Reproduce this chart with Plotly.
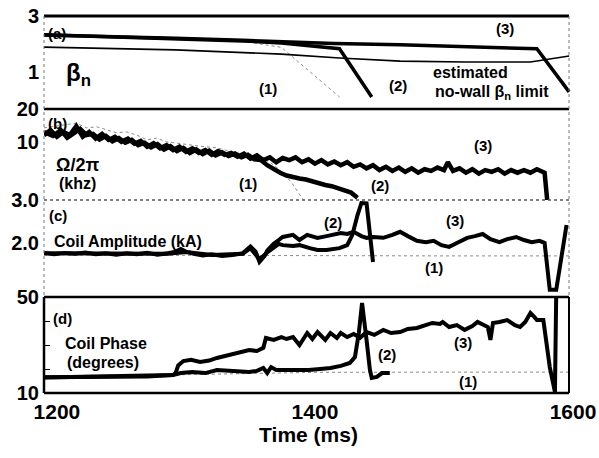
import math
import plotly.graph_objects as go

# ---------------- DATA ----------------
# time axis
x_ticks = [1200, 1400, 1600]
x_tick_text = ["1200", "1400", "1600"]

# (a) beta_n
t_a3 = [1190, 1241, 1292, 1344, 1374, 1415, 1466, 1516, 1572, 1597]
b_a3 = [2.32, 2.27, 2.21, 2.13, 2.08, 2.02, 1.97, 1.90, 1.83, 0.29]
t_a2 = [1190, 1241, 1292, 1344, 1374, 1388, 1419, 1444]
b_a2 = [2.33, 2.26, 2.19, 2.11, 2.04, 1.97, 1.83, 0.11]
t_a1 = [1190, 1292, 1344, 1374, 1419]
b_a1 = [2.30, 2.19, 2.10, 1.88, 0.11]
t_nw = [1190, 1292, 1374, 1419, 1466, 1516, 1567, 1597]
b_nw = [1.89, 1.79, 1.64, 1.50, 1.39, 1.36, 1.36, 1.57]

# (b) rotation Omega/2pi (kHz)
t_b3 = [1190, 1195, 1200, 1205, 1210, 1215, 1220, 1225, 1230, 1235, 1240, 1245,
        1250, 1255, 1260, 1265, 1270, 1275, 1280, 1285, 1290, 1295, 1300, 1305,
        1310, 1315, 1320, 1325, 1330, 1335, 1340, 1345, 1350, 1355, 1360, 1365,
        1370, 1375, 1380, 1385, 1390, 1395, 1400, 1405, 1410, 1415, 1420, 1425,
        1430, 1435, 1440, 1445, 1450, 1455, 1460, 1465, 1470, 1475, 1480, 1485,
        1490, 1495, 1500, 1503, 1507, 1512, 1517, 1522, 1527, 1532, 1537, 1542,
        1547, 1552, 1557, 1562, 1567, 1572, 1578, 1580]
w_b3 = [11.6, 12.9, 11.2, 12.4, 11.6, 14.0, 11.2, 12.4, 10.8, 11.9, 10.5, 11.2,
        10.1, 10.8, 9.7, 10.3, 9.1, 9.8, 8.8, 9.4, 8.5, 9.1, 8.2, 8.8,
        8.0, 8.5, 7.7, 8.3, 7.7, 8.0, 7.4, 7.9, 7.1, 7.6, 6.9, 7.3,
        6.6, 7.2, 6.9, 7.3, 6.6, 7.0, 6.4, 6.9, 6.3, 6.7, 6.2, 6.6,
        6.0, 6.3, 5.8, 6.2, 5.6, 6.0, 5.5, 5.9, 5.4, 5.8, 5.3, 5.7,
        5.5, 5.9, 5.6, 6.6, 5.5, 5.8, 5.3, 5.7, 5.2, 5.6, 5.4, 5.7,
        5.2, 5.6, 5.3, 5.6, 5.3, 5.7, 5.3, 3.0]
t_b2 = [1190, 1197, 1203, 1208, 1213, 1218, 1223, 1228, 1233, 1238, 1243, 1248,
        1253, 1258, 1263, 1268, 1273, 1278, 1283, 1288, 1293, 1298, 1303, 1308,
        1313, 1318, 1323, 1328, 1333, 1338, 1343, 1348, 1353, 1358, 1363, 1368,
        1373, 1378, 1383, 1388, 1393, 1398, 1403, 1408, 1413, 1418, 1423, 1428,
        1433]
w_b2 = [12.4, 11.4, 12.9, 11.0, 12.0, 13.2, 11.6, 11.9, 10.6, 11.4, 10.2, 10.9,
        9.9, 10.5, 9.4, 9.9, 9.0, 9.6, 8.6, 9.2, 8.3, 8.9, 8.0, 8.6,
        7.8, 8.4, 7.6, 8.1, 7.5, 7.9, 7.3, 7.7, 7.0, 6.9, 6.2, 5.7,
        5.3, 5.0, 4.8, 4.7, 4.6, 4.4, 4.2, 4.1, 4.0, 3.85, 3.7, 3.5,
        3.15]
t_b1 = [1190, 1215, 1223, 1231, 1239, 1246, 1254, 1262, 1270, 1277, 1285, 1298,
        1311, 1324, 1337, 1350, 1365, 1373, 1382, 1391]
w_b1 = [13.5, 14.9, 13.5, 13.8, 12.9, 12.2, 12.4, 11.6, 10.5, 10.9, 10.1, 9.6,
        9.2, 8.9, 8.1, 7.7, 6.6, 5.6, 4.3, 3.0]

# (c) coil amplitude (kA)
t_c3 = [1190, 1198, 1206, 1214, 1222, 1230, 1238, 1246, 1254, 1262, 1270, 1278,
        1286, 1292, 1296, 1300, 1306, 1313, 1320, 1328, 1336, 1344, 1350, 1354,
        1357, 1361, 1363, 1368, 1372, 1375, 1383, 1388, 1394, 1402, 1409, 1415,
        1420, 1425, 1430, 1436, 1440, 1445, 1453, 1460, 1466, 1472, 1479, 1486,
        1492, 1498, 1504, 1510, 1518, 1524, 1530, 1536, 1543, 1549, 1556, 1562,
        1568, 1574, 1578, 1582, 1587, 1595]
a_c3 = [1.77, 1.74, 1.77, 1.75, 1.78, 1.74, 1.76, 1.73, 1.76, 1.74, 1.77, 1.73,
        1.76, 1.80, 1.86, 1.80, 1.75, 1.71, 1.74, 1.70, 1.72, 1.76, 1.92, 1.80,
        1.56, 1.70, 1.82, 1.98, 2.07, 2.14, 2.19, 2.07, 2.19, 2.12, 2.16, 2.19,
        2.23, 2.21, 2.26, 2.16, 2.12, 2.14, 2.12, 2.19, 2.26, 2.16, 2.05, 2.02,
        2.05, 1.95, 1.91, 2.00, 2.12, 2.16, 2.21, 2.09, 2.02, 2.09, 2.14, 2.07,
        2.02, 2.05, 2.00, 0.91, 0.91, 2.42]
t_c2 = [1190, 1222, 1254, 1286, 1300, 1320, 1344, 1350, 1357, 1363, 1372, 1375,
        1383, 1388, 1396, 1402, 1409, 1415, 1419, 1425, 1429, 1433, 1436, 1440,
        1445]
a_c2 = [1.76, 1.76, 1.75, 1.75, 1.79, 1.72, 1.75, 1.88, 1.62, 1.78, 1.98, 1.95,
        1.93, 1.95, 1.88, 1.84, 1.84, 1.86, 1.88, 1.95, 2.19, 2.65, 2.93, 2.92,
        1.56]
t_c1 = [1190, 1300, 1400, 1500, 1597]
a_c1 = [1.72, 1.71, 1.70, 1.70, 1.70]

# (d) coil phase (degrees)
t_d3 = [1190, 1210, 1230, 1250, 1270, 1285, 1290, 1292, 1294, 1298, 1304, 1311,
        1318, 1324, 1330, 1336, 1342, 1349, 1355, 1360, 1362, 1368, 1374, 1378,
        1383, 1388, 1394, 1398, 1402, 1408, 1412, 1417, 1420, 1425, 1430, 1435,
        1440, 1446, 1453, 1459, 1466, 1472, 1479, 1485, 1491, 1497, 1499, 1504,
        1510, 1516, 1522, 1526, 1531, 1534, 1536, 1538, 1543, 1549, 1555, 1559,
        1563, 1567, 1570, 1572, 1577, 1582, 1586, 1587]
p_d3 = [16.5, 16.7, 16.6, 16.8, 16.9, 17.3, 17.5, 18.3, 21.5, 23.3, 23.8, 22.9,
        23.5, 24.6, 25.4, 26.2, 27.1, 27.9, 27.5, 28.8, 32.9, 32.1, 33.3, 32.5,
        33.3, 30.0, 35.0, 32.5, 35.4, 32.1, 35.0, 32.9, 35.0, 33.3, 34.6, 33.0,
        35.4, 34.2, 36.3, 35.0, 35.4, 36.7, 37.1, 38.3, 39.2, 38.8, 39.6, 37.5,
        38.3, 36.3, 37.9, 39.6, 38.3, 37.5, 32.1, 39.2, 39.6, 40.4, 38.3, 37.5,
        39.6, 43.3, 41.7, 40.4, 40.4, 20.8, 10.4, 52.0]
t_d2 = [1190, 1230, 1270, 1290, 1296, 1305, 1315, 1324, 1336, 1349, 1355, 1360,
        1363, 1366, 1370, 1375, 1385, 1395, 1404, 1412, 1420, 1427, 1431, 1434,
        1436.5, 1438, 1440, 1442.6, 1444, 1448, 1452, 1458]
p_d2 = [16.6, 16.7, 16.9, 17.5, 18.3, 18.75, 18.3, 19.6, 19.2, 18.75, 19.2, 20.4,
        18.3, 20.8, 19.6, 19.6, 19.2, 19.6, 20.0, 20.4, 21.3, 22.5, 25.0, 35.0,
        47.5, 42.0, 32.1, 19.6, 16.25, 16.7, 18.3, 18.3]
t_d1 = [1190, 1300, 1400, 1500, 1597]
p_d1 = [16.6, 17.6, 18.6, 18.7, 18.7]

# ---------------- LAYOUT ----------------
W, H = 599, 458
L, R, T, B = 44, 26, 16, 65
PW, PH = W - L - R, H - T - B


def px(x):
    return (x - L) / PW


def py(y):
    return (H - B - y) / PH


FONT = "Liberation Sans, Arial, Helvetica, sans-serif"
BLACK = "#000000"
GREY = "#8a8a8a"

fig = go.Figure()


def add(t, v, ax, width, color=BLACK, dash="solid"):
    fig.add_trace(go.Scatter(
        x=t, y=v, xaxis=ax[0], yaxis=ax[1], mode="lines",
        line=dict(color=color, width=width, dash=dash, shape="linear"),
        showlegend=False, hoverinfo="skip"))


# (a)
add(t_a1, b_a1, ("x", "y"), 1, GREY, "dot")
add(t_nw, b_nw, ("x", "y"), 1.6)
add(t_a2, b_a2, ("x", "y"), 3.5)
add(t_a3, b_a3, ("x", "y"), 3.5)
# (b)
add(t_b1, w_b1, ("x2", "y2"), 1, GREY, "dot")
add(t_b2, w_b2, ("x2", "y2"), 4.5)
add(t_b3, w_b3, ("x2", "y2"), 4.5)
# (c)
add(t_c1, a_c1, ("x3", "y3"), 1, GREY, "dot")
add(t_c2, a_c2, ("x3", "y3"), 4)
add(t_c3, a_c3, ("x3", "y3"), 4)
# (d)
add(t_d1, p_d1, ("x4", "y4"), 1, GREY, "dot")
add(t_d2, p_d2, ("x4", "y4"), 4)
add(t_d3, p_d3, ("x4", "y4"), 4)

tickfont = dict(family=FONT, size=20, color=BLACK, weight="bold")
xcommon = dict(range=[1190, 1600], showgrid=False, zeroline=False,
               showline=False, domain=[0, 1], automargin=False)
ycommon = dict(showgrid=False, zeroline=False, showline=False, automargin=False,
               tickfont=tickfont, ticks="", ticklabelstandoff=4)

y_a_range = [-0.32, 3.0]
y_c_range = [0.744, 3.0]

fig.update_layout(
    width=W, height=H,
    margin=dict(l=L, r=R, t=T, b=B, pad=0, autoexpand=False),
    paper_bgcolor="white", plot_bgcolor="white",
    xaxis=dict(xcommon, anchor="y", showticklabels=False, matches="x4"),
    xaxis2=dict(xcommon, anchor="y2", showticklabels=False, matches="x4"),
    xaxis3=dict(xcommon, anchor="y3", showticklabels=False, matches="x4"),
    xaxis4=dict(xcommon, anchor="y4", tickvals=x_ticks, ticktext=x_tick_text,
                tickfont=dict(family=FONT, size=21, color=BLACK, weight="bold"),
                ticks="", ticklabelstandoff=4,
                title=dict(text="Time (ms)", standoff=4,
                           font=dict(family=FONT, size=21, color=BLACK, weight="bold"))),
    yaxis=dict(ycommon, domain=[py(109), 1.0], range=y_a_range,
               tickvals=[3, 1], ticktext=["3", "1"]),
    yaxis2=dict(ycommon, type="log", domain=[py(200), py(109)],
                range=[math.log10(3), math.log10(20)],
                tickvals=[20, 10, 3], ticktext=["20", "10", "3.0"]),
    yaxis3=dict(ycommon, domain=[py(297), py(200)], range=y_c_range,
                tickvals=[2.0], ticktext=["2.0"]),
    yaxis4=dict(ycommon, domain=[0, py(297)], range=[10, 50],
                tickvals=[10, 50], ticktext=["10", "50"],
                minor=dict(tickvals=[20, 30, 40], ticks="inside", ticklen=6,
                           tickwidth=1.2, tickcolor=BLACK)),
)

# frame lines
XL, XR = px(44), px(569)
shapes = []


def hline(y, color, width, dash="solid"):
    shapes.append(dict(type="line", xref="paper", yref="paper", x0=XL, x1=XR,
                       y0=py(y), y1=py(y), line=dict(color=color, width=width, dash=dash)))


def vline(x, y0, y1, color, width, dash="solid"):
    shapes.append(dict(type="line", xref="paper", yref="paper", x0=px(x), x1=px(x),
                       y0=py(y0), y1=py(y1), line=dict(color=color, width=width, dash=dash)))


hline(16, BLACK, 3)
hline(109, BLACK, 2.5)
hline(200, "#555555", 1.5, "dot")
hline(297, BLACK, 2.5)
hline(393, BLACK, 2.5)
vline(44, 16, 297, "#777777", 1, "dot")
vline(569, 16, 297, "#777777", 1, "dot")
vline(44, 297, 393, BLACK, 2.5)
vline(569, 297, 393, BLACK, 2)
fig.update_layout(shapes=shapes)

# text labels (positions in pixels)
labels = [
    ("(a)", 57, 33, 15), ("β<sub>n</sub>", 78, 74, 24),
    ("(1)", 268, 88, 15), ("(2)", 398, 85, 15), ("(3)", 505, 29, 15),
    ("estimated", 470, 73, 16), ("no-wall β<sub>n</sub> limit", 492, 92, 16),
    ("(b)", 57, 124, 15), ("Ω/2π", 77, 165, 18), ("(khz)", 77, 184, 16),
    ("(1)", 248, 183, 15), ("(2)", 380, 185, 15), ("(3)", 483, 145, 15),
    ("(c)", 58, 215, 15), ("Coil Amplitude (kA)", 128, 241, 16),
    ("(2)", 333, 222, 15), ("(3)", 455, 221, 15), ("(1)", 434, 267, 15),
    ("(d)", 62, 318, 15), ("Coil Phase", 106, 343, 16), ("(degrees)", 103, 362, 16),
    ("(2)", 387, 354, 15), ("(3)", 463, 342, 15), ("(1)", 468, 381, 15),
]
for txt, x, y, s in labels:
    fig.add_annotation(text=txt, x=px(x), y=py(y), xref="paper", yref="paper",
                       showarrow=False, xanchor="center", yanchor="middle",
                       font=dict(family=FONT, size=s, color=BLACK, weight="bold"))

fig.write_html("out.html")
